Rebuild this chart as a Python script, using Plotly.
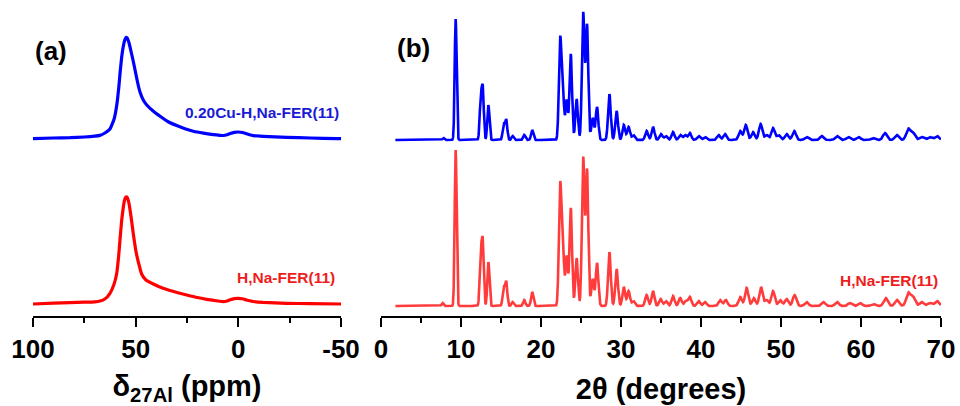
import numpy as np
import plotly.graph_objects as go

# ---------------- (a) 27Al MAS NMR spectra ----------------
# chemical shift (ppm) and intensity above baseline (a.u.)
nmr_cu_ppm = [100, 90, 82, 75, 70, 67.4, 65, 62.5, 60.5, 59.2, 58.2, 57.6, 56.8, 56, 55.3,
              54.7, 54.2, 53.7, 53.1, 52.3, 51.2, 50.3, 49, 47.9, 46.3, 44.6, 41.5, 38.1, 34, 30, 26,
              21.9, 17, 12.2, 9, 7.3, 5.5, 4, 2, 0, -2, -4, -5.5, -7.3, -12, -23.6, -35, -48, -50]
nmr_cu_int = [0.4, 1, 1.3, 2, 2.8, 3.6, 6, 10, 20, 34, 52, 66, 82, 93, 99,
              101.5, 101, 99, 95, 88, 78, 69, 56, 47, 39, 34, 28, 22.7, 17, 13.4, 10.3,
              7.7, 5.8, 4.4, 3.7, 3.5, 4.2, 5.4, 6.6, 7, 6.5, 5.2, 4.2, 3.4, 2.6, 1.7, 1, 0.4, 0.4]

nmr_h_ppm = [100, 90, 82, 75, 70, 67.4, 65, 62.5, 60.5, 59.2, 58.2, 57.6, 56.8, 56, 55.4,
             54.8, 54.3, 53.8, 53.2, 52.3, 51, 49.8, 48.7, 47.1, 45, 41.4, 37, 33.3, 29, 25.1, 20,
             15.4, 10, 7.3, 5.5, 4, 2, 0, -2, -4, -5.5, -7.3, -12, -23.6, -35, -50]
nmr_h_int = [0, 0.8, 1.3, 1.8, 2.2, 3, 5, 10.7, 20, 31, 50, 65, 84, 97, 104,
             107, 107, 105, 100, 88, 68, 52, 42, 30, 24, 20, 16, 13.5, 11, 9, 6.5,
             4.7, 3, 2.4, 3, 4.2, 5.4, 5.7, 5.2, 4, 3.2, 2.5, 1.6, 0.7, 0.3, 0]

# vertical stacking offsets of the two spectra
nmr_offset_cu = 177
nmr_offset_h = 12

# ---------------- (b) XRD patterns ----------------
# reflection positions (2theta, degrees) and peak heights (a.u.)
xrd_cu_pos = [7.8, 9.33, 12.46, 12.72, 13.42, 15.33, 15.65, 16.45, 17.9, 18.9,
              22.38, 22.7, 23.2, 23.72, 24.45, 25.27, 25.75, 26.45, 27.0, 28.55,
              29.45, 30.35, 30.95, 31.55, 33.2, 34.0, 35.0, 35.6, 36.5, 37.4,
              38.0, 38.6, 39.7, 40.5, 42.2, 43.0, 44.9, 45.6, 46.5, 47.45,
              48.2, 49.0, 49.7, 50.7, 51.65, 53.2, 55.1, 57.0, 58.4, 59.7,
              61.5, 63.0, 64.5, 65.9, 66.5, 67.6, 68.6, 69.5]
xrd_cu_int = [2, 121, 40, 50, 35, 15, 20, 4, 5, 10,
              97, 58, 40, 86, 41, 127, 115, 22, 33, 46,
              29, 15, 13, 5, 9, 13, 6, 4, 8, 5,
              5, 7, 4, 3, 5, 6, 9, 15, 8, 16,
              5, 12, 5, 6, 9, 3, 4, 4, 3, 3,
              2, 7, 5, 11, 7, 3, 3, 4]

xrd_h_pos = [7.7, 9.33, 12.46, 12.72, 13.42, 15.33, 15.65, 16.45, 17.9, 18.9,
             22.38, 22.7, 23.2, 23.72, 24.45, 25.27, 25.75, 26.45, 27.0, 28.55,
             29.45, 30.35, 30.95, 31.55, 33.2, 34.0, 34.95, 35.6, 36.5, 37.4,
             38.1, 38.6, 39.7, 40.5, 42.4, 43.1, 44.9, 45.7, 46.6, 47.5,
             48.2, 49.0, 49.9, 50.7, 51.7, 53.2, 55.3, 57.0, 58.6, 59.9,
             61.5, 63.1, 64.5, 65.9, 66.5, 67.6, 68.6, 69.5]
xrd_h_int = [3, 156, 50, 62, 44, 18, 24, 4, 6, 14,
             116, 70, 50, 98, 48, 148, 136, 27, 43, 54,
             37, 19, 15, 5, 11, 15, 7, 5, 10, 8,
             5, 9, 5, 4, 6, 6, 9, 18, 8, 19,
             6, 15, 6, 7, 11, 4, 4, 4, 3, 3,
             2, 8, 6, 13, 9, 4, 3, 5]

xrd_offset_cu = 176
xrd_offset_h = 10

tick_vals_a = [100, 50, 0, -50]
tick_text_a = ["100", "50", "0", "-50"]
tick_vals_b = [0, 10, 20, 30, 40, 50, 60, 70]

BLUE = "#0000FF"
RED_NMR = "#FF0000"
RED_XRD = "#FF3B3B"
FONT = "Arial, Liberation Sans, sans-serif"


def pattern(pos, heights, two_theta):
    """Sum of Gaussian reflections; width grows slightly with angle."""
    y = np.zeros_like(two_theta)
    for p, h in zip(pos, heights):
        s = 0.095 + 0.0025 * p
        y += h * np.exp(-0.5 * ((two_theta - p) / s) ** 2)
    return y


tt = np.arange(1.8, 70.0001, 0.01)
xrd_cu = pattern(xrd_cu_pos, xrd_cu_int, tt)
xrd_h = pattern(xrd_h_pos, xrd_h_int, tt)

fig = go.Figure()

fig.add_trace(go.Scatter(x=nmr_cu_ppm, y=np.array(nmr_cu_int) + nmr_offset_cu,
                         mode="lines", line=dict(color=BLUE, width=3.2, shape="spline", smoothing=0.4),
                         xaxis="x", yaxis="y", showlegend=False))
fig.add_trace(go.Scatter(x=nmr_h_ppm, y=np.array(nmr_h_int) + nmr_offset_h,
                         mode="lines", line=dict(color=RED_NMR, width=3.2, shape="spline", smoothing=0.4),
                         xaxis="x", yaxis="y", showlegend=False))
fig.add_trace(go.Scatter(x=tt, y=xrd_cu + xrd_offset_cu, mode="lines",
                         line=dict(color=BLUE, width=2.6), xaxis="x2", yaxis="y2", showlegend=False))
fig.add_trace(go.Scatter(x=tt, y=xrd_h + xrd_offset_h, mode="lines",
                         line=dict(color=RED_XRD, width=2.6), xaxis="x2", yaxis="y2", showlegend=False))

common_x = dict(showline=True, linewidth=2, linecolor="black", ticks="outside",
                ticklen=9, tickwidth=2, tickcolor="black", showgrid=False, zeroline=False,
                automargin=False,
                tickfont=dict(family=FONT, size=26, color="black", weight="bold"),
                title_font=dict(family=FONT, size=29, color="black", weight="bold"),
                title_standoff=15)
common_y = dict(visible=False, range=[0, 316], fixedrange=True, automargin=False)

fig.update_layout(
    width=960, height=406,
    margin=dict(l=0, r=0, t=0, b=90, autoexpand=False),
    paper_bgcolor="white", plot_bgcolor="white",
    xaxis=dict(domain=[33 / 960, 341 / 960], range=[100, -50], tickvals=tick_vals_a,
               ticktext=tick_text_a,
               minor=dict(tickvals=[75, 25, -25], ticklen=5, tickwidth=2, ticks="outside", tickcolor="black"),
               title_text="δ<sub>27Al</sub> (ppm)", anchor="y", **common_x),
    xaxis2=dict(domain=[381 / 960, 941 / 960], range=[0, 70], tickvals=tick_vals_b,
                minor=dict(dtick=5, ticklen=5, tickwidth=2, ticks="outside", tickcolor="black"),
                title_text="2θ (degrees)", anchor="y2", **common_x),
    yaxis=dict(**common_y),
    yaxis2=dict(anchor="x2", **common_y),
)

label_font = dict(family=FONT, size=15.5, weight="bold")
panel_font = dict(family=FONT, size=26, color="black", weight="bold")
fig.add_annotation(text="(a)", x=100, y=265, xref="x", yref="y", xanchor="left",
                   showarrow=False, font=panel_font)
fig.add_annotation(text="(b)", x=1.7, y=268, xref="x2", yref="y2", xanchor="left",
                   showarrow=False, font=panel_font)
fig.add_annotation(text="0.20Cu-H,Na-FER(11)", x=-50, y=204, xref="x", yref="y", xanchor="right",
                   showarrow=False, font=dict(color="#1A1AD6", **label_font))
fig.add_annotation(text="H,Na-FER(11)", x=-48, y=39, xref="x", yref="y", xanchor="right",
                   showarrow=False, font=dict(color="#EE1C1C", **label_font))
fig.add_annotation(text="0.20Cu-H,Na-FER(11)", x=70.2, y=204, xref="x2", yref="y2", xanchor="right",
                   showarrow=False, font=dict(color="#1A1AD6", **label_font))
fig.add_annotation(text="H,Na-FER(11)", x=69.9, y=36, xref="x2", yref="y2", xanchor="right",
                   showarrow=False, font=dict(color="#EE1C1C", **label_font))

fig.write_html("out.html")
